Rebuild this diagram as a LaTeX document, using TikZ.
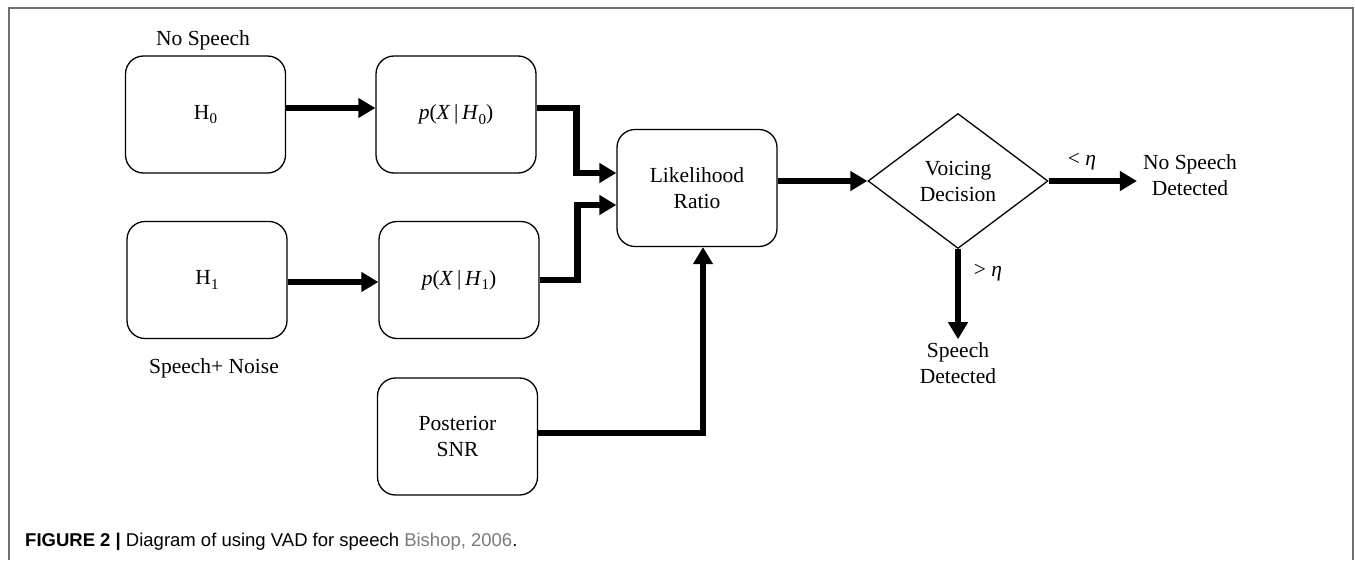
\documentclass[tikz,border=0pt]{standalone}
\usepackage{fontspec}
\setmainfont{Liberation Serif}
\newfontfamily\capfont{Liberation Sans}
\usetikzlibrary{arrows.meta,shapes.geometric}
\definecolor{framegray}{HTML}{707070}
\definecolor{citegray}{HTML}{7A7A7A}
\newcommand{\mysub}[1]{\raisebox{-0.22em}{\fontsize{15}{15}\selectfont #1}}
\begin{document}
\begin{tikzpicture}[x=1pt,y=-1pt,
  txt/.style={font=\fontsize{21.5}{26}\selectfont, align=center, inner sep=0pt},
  box/.style={txt, draw, line width=1.3pt, rounded corners=18pt, minimum width=160pt, minimum height=117pt},
  decbox/.style={txt, draw, line width=1.3pt, diamond, aspect=1.33, minimum width=180pt, minimum height=135pt},
  arr/.style={line width=6.5pt, -{Triangle[length=17pt,width=19pt]}}
]
\useasboundingbox (0,0) rectangle (1355,560);
\draw[framegray, line width=1.2pt] (9,560) -- (9,8) -- (1353,8) -- (1353,560);

% boxes
\node[box] (h0)  at (205.5,114.5) {H\mysub{0}};
\node[box] (p0)  at (456,114.5)   {\textit{p}(\textit{X}\,|\,\textit{H}\mysub{0})};
\node[box] (h1)  at (207,280)     {H\mysub{1}};
\node[box] (p1)  at (459,280)     {\textit{p}(\textit{X}\,|\,\textit{H}\mysub{1})};
\node[box] (lr)  at (697,188)     {Likelihood\\Ratio};
\node[box] (snr) at (457.5,436.5) {Posterior\\SNR};
\node[decbox] (dec) at (958,181)  {Voicing\\Decision};

% free labels
\node[txt] (nosp)  at (203,40)   {No Speech};
\node[txt] (spn)   at (214,368)  {Speech+ Noise};
\node[txt] (nsd)   at (1190,175) {No Speech\\Detected};
\node[txt] (sd)    at (958,363)  {Speech\\Detected};
\node[txt] (lt)    at (1082,162) {< \textit{η}};
\node[txt] (gt)    at (988,273)  {> \textit{η}};

% connectors
\draw[arr] ([yshift=6.5pt]h0.east) -- ([yshift=6.5pt]p0.west);
\draw[arr] ([yshift=-2pt]h1.east) -- ([yshift=-2pt]p1.west);
\draw[arr] ([yshift=6.5pt]p0.east) -- ++(40,0) |- ([yshift=15pt]lr.west);
\draw[arr] (p1.east) -- ++(38,0) |- ([yshift=-17pt]lr.west);
\draw[arr] ([yshift=3.5pt]snr.east) -| ([xshift=6pt]lr.south);
\draw[arr] (dec.west -| lr.east) -- (dec.west);
\draw[arr, shorten >=6pt] (dec.east) -- (dec.east -| nsd.west);
\draw[arr, shorten >=3pt] (dec.south) -- (sd.north);

% caption
\node[anchor=base west, inner sep=0pt, font=\capfont\fontsize{18.5}{22}\selectfont] (cap) at (25,546)
  {\textbf{FIGURE 2 |} Diagram of using VAD for speech \textcolor{citegray}{Bishop, 2006}.};
\end{tikzpicture}
\end{document}
